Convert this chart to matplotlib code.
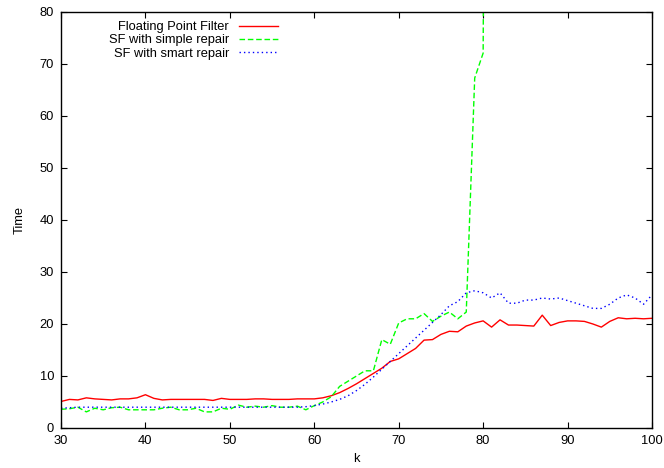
import numpy as np
import matplotlib as mpl
import matplotlib.pyplot as plt

# k = 30 .. 100
k = np.arange(30, 101)

fpf = [5.1, 5.5, 5.4, 5.8, 5.6, 5.5, 5.4, 5.6, 5.6, 5.8,
       6.4, 5.7, 5.4, 5.5, 5.5, 5.5, 5.5, 5.5, 5.3, 5.7,
       5.5, 5.5, 5.5, 5.6, 5.6, 5.5, 5.5, 5.5, 5.6, 5.6,
       5.6, 5.8, 6.2, 6.8, 7.6, 8.5, 9.5, 10.5, 11.5, 12.8,
       13.3, 14.3, 15.3, 16.9, 17.0, 18.0, 18.6, 18.5, 19.6, 20.2,
       20.6, 19.4, 20.8, 19.8, 19.8, 19.7, 19.6, 21.7, 19.7, 20.3,
       20.6, 20.6, 20.5, 20.0, 19.4, 20.5, 21.2, 21.0, 21.1, 21.0,
       21.1]

# simple repair blows up after k = 80
simple_k = np.arange(30, 82)
simple = [3.6, 3.7, 4.0, 3.1, 3.8, 3.5, 3.9, 4.0, 3.5, 3.5,
          3.5, 3.5, 3.8, 4.0, 3.5, 3.5, 3.8, 3.1, 3.1, 3.8,
          3.6, 4.4, 4.0, 4.2, 4.0, 4.3, 4.0, 4.0, 4.2, 3.5,
          4.3, 5.0, 6.0, 8.0, 9.0, 10.0, 11.0, 11.0, 17.0, 16.1,
          20.2, 21.0, 21.0, 22.0, 20.5, 21.5, 22.3, 21.0, 22.3, 67.3,
          72.1, 400.0]

smart = [3.8, 3.9, 4.0, 4.0, 4.0, 4.0, 4.0, 4.0, 4.0, 4.0,
         4.0, 4.0, 4.0, 4.0, 4.0, 4.0, 4.0, 4.0, 4.0, 4.0,
         4.0, 4.0, 4.0, 4.0, 4.0, 4.0, 4.0, 4.0, 4.0, 4.1,
         4.3, 4.6, 5.0, 5.5, 6.2, 7.2, 8.4, 9.8, 11.3, 12.8,
         14.3, 15.8, 17.3, 18.8, 20.3, 21.8, 23.5, 24.3, 26.0, 26.4,
         26.0, 25.0, 26.0, 24.0, 24.0, 24.6, 24.6, 25.0, 24.8, 25.0,
         24.5, 24.0, 23.5, 23.0, 23.0, 23.8, 25.0, 25.6, 25.0, 23.8,
         25.6]

mpl.rcParams["font.family"] = ["Liberation Sans", "DejaVu Sans"]
mpl.rcParams["font.size"] = 9.3

fig = plt.figure(figsize=(6.64, 4.68), dpi=100)
ax = fig.add_axes([61 / 664, 40 / 468, 591 / 664, 416 / 468])

ax.plot(k, fpf, color="#ff0000", lw=1.0, label="Floating Point Filter")
ax.plot(simple_k, simple, color="#00ff00", lw=1.0, dashes=(4, 2),
        label="SF with simple repair")
ax.plot(k, smart, color="#0000ff", lw=1.0, dashes=(1, 2.2),
        label="SF with smart repair")

ax.set_xlim(30, 100)
ax.set_ylim(0, 80)
ax.set_xticks(np.arange(30, 101, 10))
ax.set_yticks(np.arange(0, 81, 10))
ax.tick_params(direction="in", length=4.5, width=0.8, top=True, right=True, pad=5)
for s in ax.spines.values():
    s.set_linewidth(1.0)

ax.set_xlabel("k", labelpad=4)
ax.set_ylabel("Time", labelpad=10)

ax.legend(loc="upper right", bbox_to_anchor=(278 / 664, 1 - 21 / 468),
          bbox_transform=fig.transFigure, frameon=False, markerfirst=False,
          borderpad=0, borderaxespad=0, handlelength=3.0, handletextpad=0.8,
          labelspacing=0.1)

fig.savefig("out.png")
